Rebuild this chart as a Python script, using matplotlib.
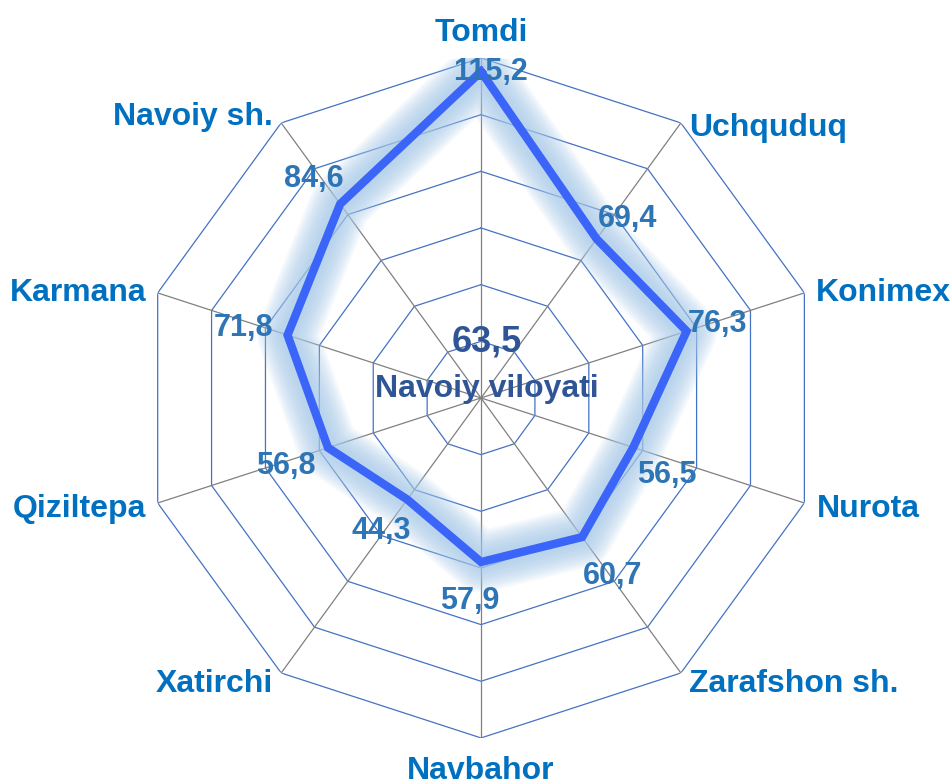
import numpy as np
import matplotlib.pyplot as plt

# ── Data ─────────────────────────────────────────────────────────────────────
districts = ["Tomdi", "Uchquduq", "Konimex", "Nurota", "Zarafshon sh.",
             "Navbahor", "Xatirchi", "Qiziltepa", "Karmana", "Navoiy sh."]
values = [115.2, 69.4, 76.3, 56.5, 60.7, 57.9, 44.3, 56.8, 71.8, 84.6]
region_name = "Navoiy viloyati"
region_value = 63.5
ring_levels = [20, 40, 60, 80, 100, 120]

# ── Styling ──────────────────────────────────────────────────────────────────
LINE_COLOR = "#3B64F8"
GLOW_COLOR = "#A7CAEA"
RING_COLOR = "#4472C4"
SPOKE_COLOR = "#808080"
CAT_COLOR = "#0070C0"
VAL_COLOR = "#2E75B6"
CENTER_COLOR = "#2F5597"
FONT = "Liberation Sans"

# label offsets (points) relative to the outer ring vertex
cat_offsets = [(0, 7, "center", "bottom"), (6, -4, "left", "center"),
               (8, 0, "left", "center"), (9, -4, "left", "center"),
               (6, -8, "left", "center"), (0, -13, "center", "top"),
               (-6, -8, "right", "center"), (-8, -4, "right", "center"),
               (-8, 0, "right", "center"), (-6, 4, "right", "center")]
# value label offsets (points) relative to the data point
val_offsets = [(7, 0), (22, 14), (22, 5), (24, -20), (22, -28),
               (-8, -28), (-19, -23), (-30, -13), (-32, 5), (-19, 18)]


def fmt(v):
    return f"{v:.1f}".replace(".", ",")


n = len(districts)
theta = np.linspace(0, 2 * np.pi, n, endpoint=False)
theta_c = np.append(theta, theta[0])

fig = plt.figure(figsize=(9.53, 7.83), dpi=100)
ax = fig.add_axes([0.148, 0.0575, 0.7135, 0.8685], projection="polar")
ax.set_theta_zero_location("N")
ax.set_theta_direction(-1)
ax.set_ylim(0, ring_levels[-1])
ax.axis("off")

# polygon grid
for lvl in ring_levels:
    ax.plot(theta_c, [lvl] * (n + 1), color=RING_COLOR, lw=0.9, zorder=1)
for t in theta:
    ax.plot([t, t], [0, ring_levels[-1]], color=SPOKE_COLOR, lw=0.9, zorder=1)

# soft glow under the series line: many thin-alpha strokes, widest first
vals_c = values + values[:1]
for w in np.arange(44, 10, -3):
    ax.plot(theta_c, vals_c, color=GLOW_COLOR, lw=w, alpha=0.11,
            solid_joinstyle="round", solid_capstyle="round", zorder=2)
ax.plot(theta_c, vals_c, color=LINE_COLOR, lw=6, solid_joinstyle="miter",
        zorder=3)

# category labels
for t, name, (dx, dy, ha, va) in zip(theta, districts, cat_offsets):
    ax.annotate(name, xy=(t, ring_levels[-1]), xytext=(dx, dy),
                textcoords="offset points", ha=ha, va=va, fontsize=23,
                fontweight="bold", color=CAT_COLOR, family=FONT,
                annotation_clip=False)

# value labels
for t, v, (dx, dy) in zip(theta, values, val_offsets):
    ax.annotate(fmt(v), xy=(t, v), xytext=(dx, dy), textcoords="offset points",
                ha="center", va="center", fontsize=22, fontweight="bold",
                color=VAL_COLOR, family=FONT, zorder=4, annotation_clip=False)

# regional total in the middle
ax.text(0.509, 0.582, fmt(region_value), transform=ax.transAxes,
        ha="center", va="center", fontsize=26, fontweight="bold",
        color=CENTER_COLOR, family=FONT, zorder=5)
ax.text(0.509, 0.513, region_name, transform=ax.transAxes,
        ha="center", va="center", fontsize=23, fontweight="bold",
        color=CENTER_COLOR, family=FONT, zorder=5)

fig.savefig("out.png", dpi=100)
